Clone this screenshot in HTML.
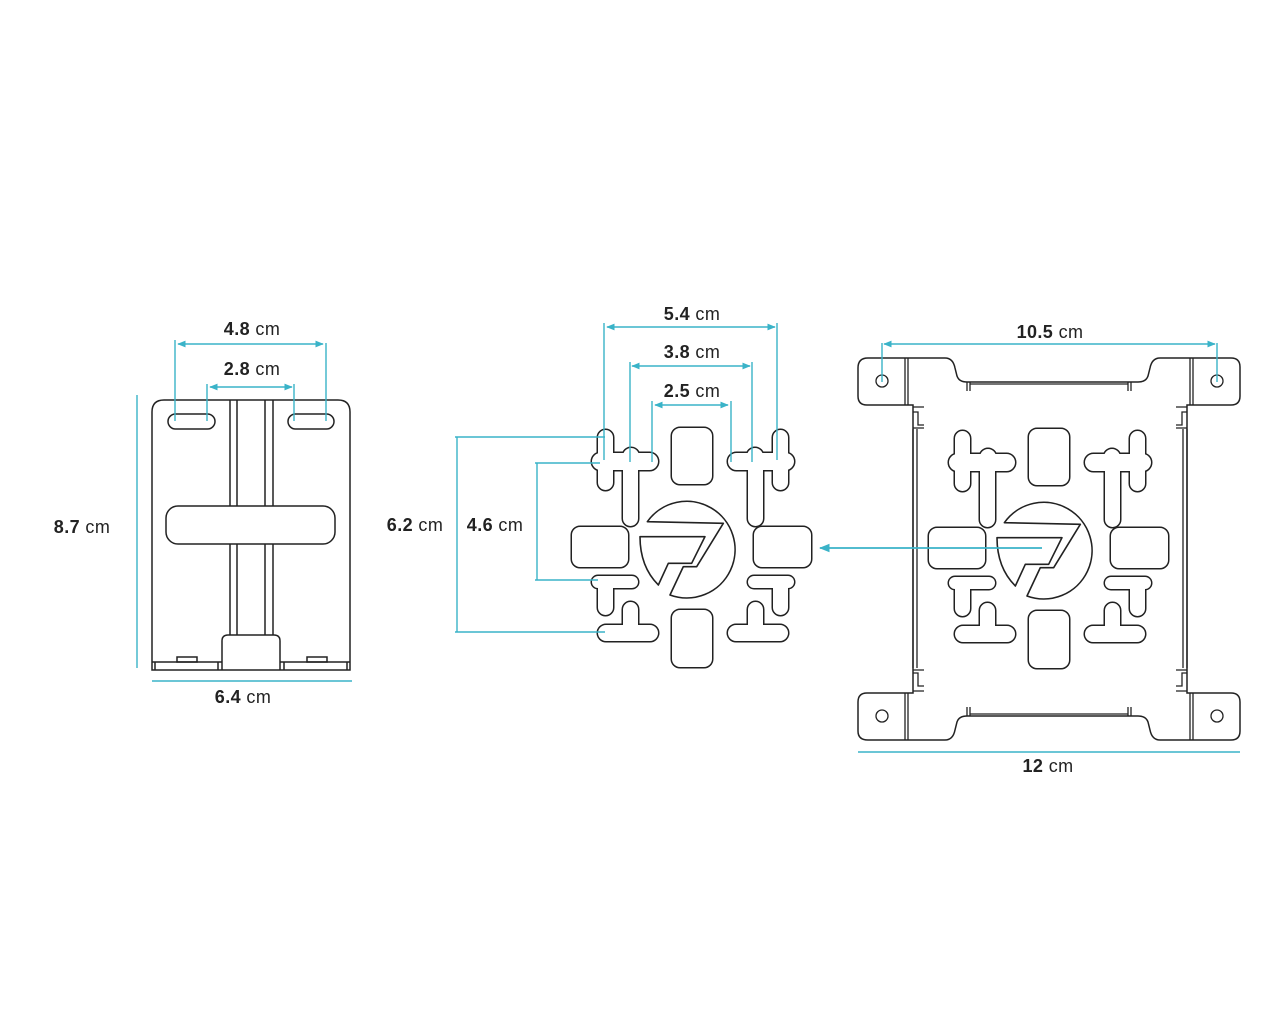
<!DOCTYPE html>
<html><head><meta charset="utf-8"><style>
html,body{margin:0;padding:0;background:#fff;}
svg{display:block;}
text{font-family:"Liberation Sans",sans-serif;font-size:18px;letter-spacing:0.4px;fill:#222;}
</style></head><body>
<svg width="1280" height="1024" viewBox="0 0 1280 1024" xmlns="http://www.w3.org/2000/svg">
<defs>
<g id="shapes">
  <rect x="672" y="428" width="40" height="56" rx="8"/>
  <rect x="672" y="610" width="40" height="57" rx="8"/>
  <rect x="572" y="527" width="56" height="40" rx="8"/>
  <rect x="754" y="527" width="57" height="40" rx="8"/>
  <rect x="598" y="430" width="15" height="60" rx="7.5"/>
  <rect x="592" y="453" width="66" height="17" rx="8.5"/>
  <circle cx="631" cy="456" r="8"/>
  <rect x="623" y="460" width="15" height="66" rx="7.5"/>
  <rect x="773" y="430" width="15" height="60" rx="7.5"/>
  <rect x="728" y="453" width="66" height="17" rx="8.5"/>
  <circle cx="755" cy="456" r="8"/>
  <rect x="748" y="460" width="15" height="66" rx="7.5"/>
  <rect x="592" y="576" width="46" height="12" rx="6"/>
  <rect x="598" y="576" width="15" height="39" rx="7.5"/>
  <rect x="598" y="625" width="60" height="16" rx="8"/>
  <rect x="623" y="602" width="15" height="39" rx="7.5"/>
  <rect x="748" y="576" width="46" height="12" rx="6"/>
  <rect x="773" y="576" width="15" height="39" rx="7.5"/>
  <rect x="728" y="625" width="60" height="16" rx="8"/>
  <rect x="748" y="602" width="15" height="39" rx="7.5"/>
</g>
<g id="pattern">
  <use href="#shapes" fill="#fff" stroke="#222" stroke-width="3"/>
  <use href="#shapes" fill="#fff" stroke="none"/>
  <g transform="translate(560,410) scale(0.3333)" fill="none" stroke="#222" stroke-width="4.8" stroke-linejoin="round">
    <path d="M262,335 A145,145 0 1 1 330,555 L370,470 L410,470 L490,340 Z"/>
    <path d="M240,380 L435,380 L395,460 L325,460 L295,525 Q240,470 240,380 Z"/>
  </g>
</g>
<marker id="ar" viewBox="0 0 10 10" refX="9" refY="5" markerWidth="6" markerHeight="6" orient="auto-start-reverse"><path d="M0,1 L10,5 L0,9 Z" fill="#3ab3c8"/></marker>
</defs>

<!-- Left piece -->
<g fill="none" stroke="#222" stroke-width="1.5">
  <path d="M152,670 L152,412 Q152,400 164,400 L338,400 Q350,400 350,412 L350,670 Z"/>
  <rect x="168" y="414" width="47" height="15" rx="7.5"/>
  <rect x="288" y="414" width="46" height="15" rx="7.5"/>
  <rect x="166" y="506" width="169" height="38" rx="12"/>
  <path d="M230,400V506M237,400V506M265,400V506M273,400V506M230,544V635M237,544V635M265,544V635M273,544V635"/>
  <path d="M222,670 V641 Q222,635 228,635 L274,635 Q280,635 280,641 V670"/>
  <path d="M152,662 H222 M280,662 H350 M155,662V670 M218,662V670 M284,662V670 M347,662V670"/>
  <rect x="177" y="657" width="20" height="5"/>
  <rect x="307" y="657" width="20" height="5"/>
</g>

<use href="#pattern"/>

<!-- Right plate -->
<g fill="#fff" stroke="#222" stroke-width="1.5">
  <path d="M858,368 Q858,358 868,358 L945,358 Q953,358 955,368 L957,376 Q959,382 967,382 L1138,382 Q1146,382 1148,376 L1150,368 Q1152,358 1160,358 L1231,358 Q1240,358 1240,367 L1240,396 Q1240,405 1231,405 L1187,405 L1187,693 L1231,693 Q1240,693 1240,702 L1240,731 Q1240,740 1231,740 L1160,740 Q1152,740 1150,730 L1148,722 Q1146,716 1138,716 L967,716 Q959,716 957,722 L955,730 Q953,740 945,740 L868,740 Q858,740 858,731 L858,702 Q858,693 867,693 L913,693 L913,405 L867,405 Q858,405 858,396 Z"/>
</g>
<g fill="none" stroke="#222" stroke-width="1.3">
  <path d="M905,358V405M908,358V405M1190,358V405M1193,358V405M905,693V740M908,693V740M1190,693V740M1193,693V740"/>
  <path d="M913,429V668M917,429V668M1183,429V668M1187,429V668"/>
  <path d="M913,407 H924 M913,412 H918 V425 H924 M913,428 H924"/>
  <path d="M1187,407 H1176 M1187,412 H1182 V425 H1176 M1187,428 H1176"/>
  <path d="M913,670 H924 M913,673 H918 V686 H924 M913,691 H924"/>
  <path d="M1187,670 H1176 M1187,673 H1182 V686 H1176 M1187,691 H1176"/>
  <path d="M967,382 V391 M970,382 V391 M970,384 H1128 M1128,382 V391 M1131,382 V391"/>
  <path d="M967,716 V707 M970,716 V707 M970,714 H1128 M1128,716 V707 M1131,716 V707"/>
  <circle cx="882" cy="381" r="6"/>
  <circle cx="1217" cy="381" r="6"/>
  <circle cx="882" cy="716" r="6"/>
  <circle cx="1217" cy="716" r="6"/>
</g>
<use href="#pattern" transform="translate(357,1)"/>

<!-- Dimensions -->
<g stroke="#3ab3c8" stroke-width="1.4" fill="none">
  <path d="M137,395V668 M152,681H352"/>
  <path d="M178,344H323" marker-start="url(#ar)" marker-end="url(#ar)"/>
  <path d="M175,340V421 M326,343V421"/>
  <path d="M210,387H292" marker-start="url(#ar)" marker-end="url(#ar)"/>
  <path d="M207,384V421 M294,384V421"/>

  <path d="M607,327H775" marker-start="url(#ar)" marker-end="url(#ar)"/>
  <path d="M604,323V460 M777,323V460"/>
  <path d="M632,366H750" marker-start="url(#ar)" marker-end="url(#ar)"/>
  <path d="M630,362V462 M752,362V462"/>
  <path d="M655,405H728" marker-start="url(#ar)" marker-end="url(#ar)"/>
  <path d="M652,401V462 M731,401V462"/>
  <path d="M457,437V632 M455,437H605 M455,632H605"/>
  <path d="M537,463V580 M535,463H600 M535,580H598"/>

  <path d="M1042,548H820" stroke-width="1.8" marker-end="url(#ar)"/>

  <path d="M884,344H1215" marker-start="url(#ar)" marker-end="url(#ar)"/>
  <path d="M882,343V382 M1217,343V382"/>
  <path d="M858,752H1240"/>
</g>

<text x="252" y="335" text-anchor="middle"><tspan font-weight="bold">4.8</tspan> cm</text>
<text x="252" y="375" text-anchor="middle"><tspan font-weight="bold">2.8</tspan> cm</text>
<text x="82" y="533" text-anchor="middle"><tspan font-weight="bold">8.7</tspan> cm</text>
<text x="243" y="703" text-anchor="middle"><tspan font-weight="bold">6.4</tspan> cm</text>
<text x="692" y="320" text-anchor="middle"><tspan font-weight="bold">5.4</tspan> cm</text>
<text x="692" y="358" text-anchor="middle"><tspan font-weight="bold">3.8</tspan> cm</text>
<text x="692" y="397" text-anchor="middle"><tspan font-weight="bold">2.5</tspan> cm</text>
<text x="415" y="531" text-anchor="middle"><tspan font-weight="bold">6.2</tspan> cm</text>
<text x="495" y="531" text-anchor="middle"><tspan font-weight="bold">4.6</tspan> cm</text>
<text x="1050" y="338" text-anchor="middle"><tspan font-weight="bold">10.5</tspan> cm</text>
<text x="1048" y="772" text-anchor="middle"><tspan font-weight="bold">12</tspan> cm</text>
</svg>
</body></html>
